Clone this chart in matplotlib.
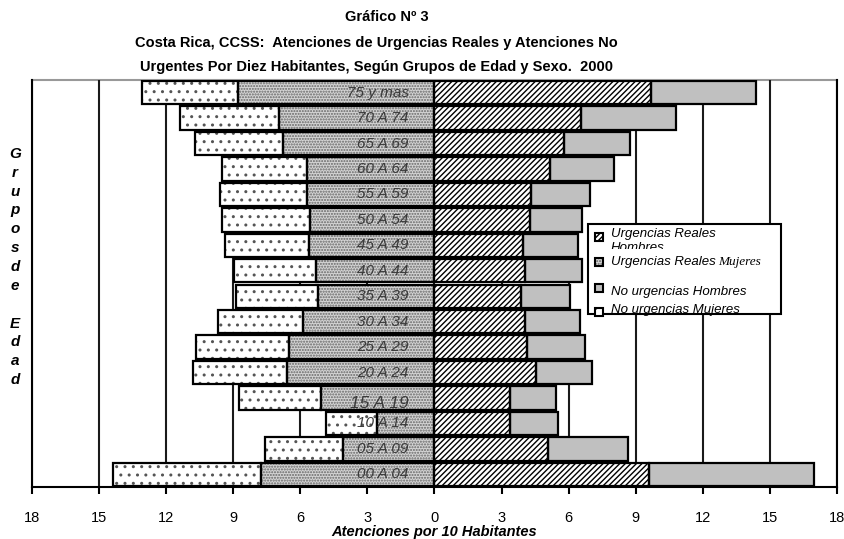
import matplotlib.pyplot as plt
from matplotlib.patches import Rectangle
import matplotlib.font_manager as fm

# age groups, bottom row first
grupos = ["00 A 04", "05 A 09", "10 A 14", "15 A 19", "20 A 24", "25 A 29",
          "30 A 34", "35 A 39", "40 A 44", "45 A 49", "50 A 54", "55 A 59",
          "60 A 64", "65 A 69", "70 A 74", "75 y mas"]

# atenciones por 10 habitantes
urg_mujeres = [7.76, 4.10, 2.56, 5.07, 6.61, 6.52, 5.86, 5.19,
               5.29, 5.62, 5.55, 5.71, 5.71, 6.76, 6.96, 8.80]
no_urg_mujeres = [6.62, 3.46, 2.28, 3.66, 4.17, 4.15, 3.84, 3.69,
                  3.69, 3.74, 3.97, 3.89, 3.81, 3.93, 4.43, 4.30]
urg_hombres = [9.58, 5.08, 3.36, 3.36, 4.52, 4.15, 4.06, 3.85,
               4.03, 3.96, 4.25, 4.33, 5.15, 5.77, 6.53, 9.66]
no_urg_hombres = [7.40, 3.59, 2.16, 2.09, 2.53, 2.56, 2.46, 2.22,
                  2.58, 2.45, 2.34, 2.63, 2.87, 2.98, 4.27, 4.71]

ticks = [-18, -15, -12, -9, -6, -3, 0, 3, 6, 9, 12, 15, 18]

installed = set(f.name for f in fm.fontManager.ttflist)
narrow = "Liberation Sans Narrow" if "Liberation Sans Narrow" in installed else "Liberation Sans"
sans = "Liberation Sans"

plt.rcParams["hatch.linewidth"] = 1.0

W, H = 845, 539
fig = plt.figure(figsize=(W / 100, H / 100), dpi=100)
ax = fig.add_axes([32 / W, 1 - 487 / H, (837 - 32) / W, (487 - 80) / H])

y = list(range(len(grupos)))
h = 0.92


def bars(width, left, face, hatch, hcolor):
    # hatched fill first, then a separate black outline
    ax.barh(y, width, left=left, height=h, color=face, hatch=hatch,
            edgecolor=hcolor, linewidth=0, zorder=2)
    ax.barh(y, width, left=left, height=h, fill=False,
            edgecolor="black", linewidth=1.6, zorder=3)


left_inner = [-v for v in urg_mujeres]
left_outer = [-v for v in no_urg_mujeres]

bars(left_inner, 0, "#d4d4d4", "......", "#666666")
bars(left_outer, left_inner, "white", "..", "#555555")
bars(urg_hombres, 0, "white", "//////", "black")
bars(no_urg_hombres, urg_hombres, "#c0c0c0", None, "#c0c0c0")

for i in range(len(grupos)):
    size = 11
    dy = 0
    if grupos[i] == "15 A 19":
        size = 12.5
        dy = -0.2
    ax.text(-1.15, y[i] + dy, grupos[i], ha="right", va="center",
            fontsize=size, style="italic", family=sans, color="#3a3a3a", zorder=4)

ax.set_xlim(-18, 18)
ax.set_ylim(-0.5, 15.5)
ax.set_xticks(ticks)
ax.set_xticklabels([str(abs(t)) for t in ticks], family=narrow, fontsize=10.5)
ax.set_yticks([])
ax.tick_params(axis="x", direction="out", length=5, width=1.5, pad=12)

ax.set_axisbelow(True)
ax.xaxis.grid(True, color="#1a1a1a", linewidth=1.5)

for s in ["left", "right", "bottom"]:
    ax.spines[s].set_linewidth(1.5)
    ax.spines[s].set_color("black")
ax.spines["top"].set_color("#999999")
ax.spines["top"].set_linewidth(1.5)
ax.spines["top"].set_zorder(0)

ax.set_xlabel("Atenciones por 10 Habitantes", fontsize=10.5, weight="bold",
              style="italic", family=narrow, va="center")
ax.xaxis.set_label_coords(0.5, -(532 - 487) / (487 - 80))

# vertical stacked y label
fig.text(15 / W, 1 - 267 / H, "G\nr\nu\np\no\ns\nd\ne\n\nE\nd\na\nd",
         ha="center", va="center", fontsize=11, weight="bold", style="italic",
         family=sans, linespacing=1.44)

fig.text(387 / W, 1 - 17 / H, "Gráfico Nº 3", ha="center", va="center",
         fontsize=10.5, weight="bold", family=narrow)
fig.text(376 / W, 1 - 43 / H,
         "Costa Rica, CCSS:  Atenciones de Urgencias Reales y Atenciones No",
         ha="center", va="center", fontsize=10.5, weight="bold", family=narrow)
fig.text(377 / W, 1 - 67 / H,
         "Urgentes Por Diez Habitantes, Según Grupos de Edad y Sexo.  2000",
         ha="center", va="center", fontsize=10.5, weight="bold", family=narrow)

# legend box
box = Rectangle((588 / W, 1 - 314 / H), (781 - 588) / W, (314 - 224) / H,
                transform=fig.transFigure, facecolor="white", edgecolor="black",
                linewidth=1.5, zorder=5)
fig.patches.append(box)

entries = [
    (237, "white", "//////", "black"),
    (262, "#d4d4d4", "......", "#666666"),
    (288, "#c0c0c0", None, "#c0c0c0"),
    (312, "white", "..", "#555555"),
]
for yy, face, hatch, hc in entries:
    s = 8
    fig.patches.append(Rectangle(((599 - s / 2) / W, 1 - (yy + s / 2) / H), s / W, s / H,
                                 transform=fig.transFigure, facecolor=face, hatch=hatch,
                                 edgecolor=hc, linewidth=0, zorder=6))
    fig.patches.append(Rectangle(((599 - s / 2) / W, 1 - (yy + s / 2) / H), s / W, s / H,
                                 transform=fig.transFigure, fill=False,
                                 edgecolor="black", linewidth=1.5, zorder=7))

lx = 611 / W
fig.text(lx, 1 - 234 / H, "Urgencias Reales", ha="left", va="center",
         fontsize=9.5, style="italic", family=sans, zorder=8)
fig.text(lx, 1 - 248 / H, "Hombres", ha="left", va="center",
         fontsize=9.5, style="italic", family=sans, zorder=8)
# second line of the first entry is cut by the row below it
fig.patches.append(Rectangle((608 / W, 1 - 256 / H), 80 / W, 7.5 / H,
                             transform=fig.transFigure, facecolor="white",
                             edgecolor="none", zorder=9))
fig.text(lx, 1 - 262 / H, "Urgencias Reales", ha="left", va="center",
         fontsize=9.5, style="italic", family=sans, zorder=10)
fig.text(718 / W, 1 - 262 / H, "Mujeres", ha="left", va="center",
         fontsize=9.5, style="italic", family="Liberation Serif", zorder=10)
fig.text(lx, 1 - 292 / H, "No urgencias Hombres", ha="left", va="center",
         fontsize=9.5, style="italic", family=sans, zorder=8)
fig.text(lx, 1 - 310 / H, "No urgencias Mujeres", ha="left", va="center",
         fontsize=9.5, style="italic", family=sans, zorder=8)

fig.savefig("out.png", dpi=100)
